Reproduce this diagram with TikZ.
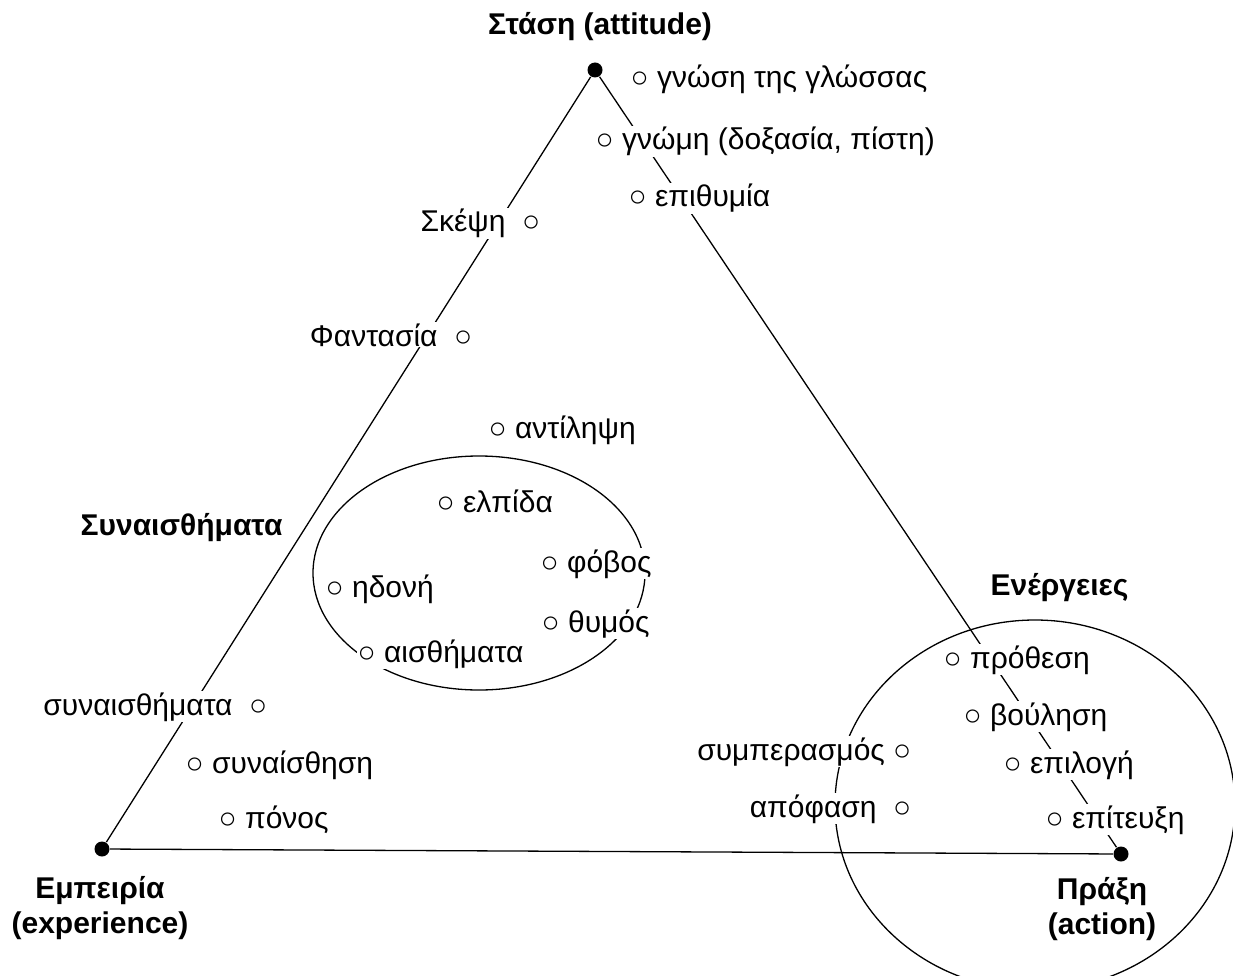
\documentclass[tikz,border=0pt]{standalone}
\usepackage{fontspec}
\setmainfont{Liberation Sans}
\newcommand{\pnt}{○}
\begin{document}
\begin{tikzpicture}[x=1pt, y=-1pt, line width=1.3pt,
  dot/.style={circle, fill=black, inner sep=0pt, minimum size=15pt},
  lbl/.style={fill=white, inner sep=1pt, font=\fontsize{30}{35}\selectfont},
  lw/.style={lbl, anchor=base west},
  le/.style={lbl, anchor=base east},
  hd/.style={lbl, align=center, font=\fontsize{30}{35}\selectfont\bfseries}]
  \useasboundingbox (0,0) rectangle (1233,976);

  \node[dot] (S) at (595, 70) {};
  \node[dot] (E) at (102, 849) {};
  \node[dot] (P) at (1121, 854) {};

  \draw (E) -- (S);
  \draw (S) -- (P);
  \draw (E) -- (P);
  \draw (479, 573) ellipse [x radius=166, y radius=117];
  \draw (1035, 805) ellipse [x radius=200, y radius=185];

  \node[hd, anchor=base] (stasi) at (600, 35) {Στάση (attitude)};
  \node[hd, anchor=base west] (synh) at (79, 535) {Συναισθήματα};
  \node[hd, anchor=base west] (energ) at (989, 595) {Ενέργειες};
  \node[hd] (empeiria) at (100, 908) {Εμπειρία\\(experience)};
  \node[hd] (praxi) at (1102, 909) {Πράξη\\(action)};

  \node[lw] (gnosi) at (629, 88) {\pnt\ γνώση της γλώσσας};
  \node[lw] (gnomi) at (594, 150) {\pnt\ γνώμη (δοξασία, πίστη)};
  \node[lw] (epith) at (627, 207) {\pnt\ επιθυμία};
  \node[le] (skepsi) at (542, 232) {Σκέψη \ \pnt};
  \node[le] (fant) at (474, 346) {Φαντασία \ \pnt};
  \node[lw] (antil) at (487, 438) {\pnt\ αντίληψη};
  \node[lw] (elpida) at (435, 512) {\pnt\ ελπίδα};
  \node[lw] (fovos) at (539, 572) {\pnt\ φόβος};
  \node[lw] (idoni) at (324, 597) {\pnt\ ηδονή};
  \node[lw] (thymos) at (540, 632) {\pnt\ θυμός};
  \node[lw] (aisth) at (356, 662) {\pnt\ αισθήματα};
  \node[lw] (prothesi) at (942, 668) {\pnt\ πρόθεση};
  \node[le] (synaisth) at (269, 715) {συναισθήματα \ \pnt};
  \node[lw] (voulisi) at (962, 725) {\pnt\ βούληση};
  \node[le] (sympe) at (913, 760) {συμπερασμός \pnt};
  \node[lw] (synaisthisi) at (184, 773) {\pnt\ συναίσθηση};
  \node[lw] (epilogi) at (1002, 773) {\pnt\ επιλογή};
  \node[le] (apofasi) at (913, 817) {απόφαση \ \pnt};
  \node[lw] (epitefxi) at (1044, 828) {\pnt\ επίτευξη};
  \node[lw] (ponos) at (217, 828) {\pnt\ πόνος};
\end{tikzpicture}
\end{document}
